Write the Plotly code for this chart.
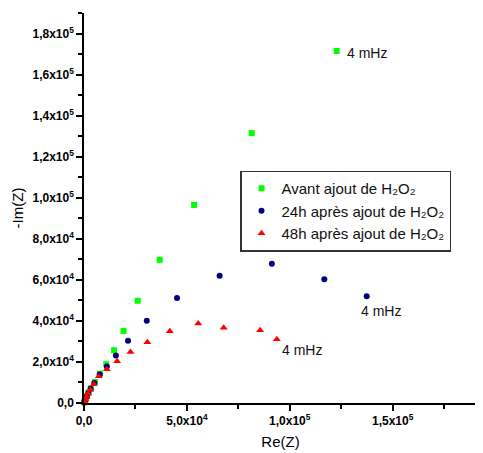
import plotly.graph_objects as go

# Nyquist data (Re(Z), -Im(Z))
avant_re = [100, 300, 700, 1300, 2200, 3300, 5300, 7800, 10800, 14600, 19200, 26100, 36800, 53500, 81500, 122800]
avant_im = [300, 900, 1900, 3300, 5100, 7200, 10200, 14300, 18900, 25700, 35100, 49800, 69800, 96500, 131500, 171500]

h24_re = [100, 300, 700, 1300, 2100, 3200, 5000, 7600, 11100, 15500, 21400, 30500, 45200, 65900, 91300, 116800, 137400]
h24_im = [300, 900, 1900, 3200, 4900, 7000, 9800, 13900, 17800, 23200, 30300, 40100, 51100, 62000, 67800, 60300, 52000]

h48_re = [100, 300, 700, 1200, 2000, 3100, 4800, 7200, 11100, 16100, 22600, 30800, 41700, 55500, 67900, 85600, 93700]
h48_im = [300, 800, 1800, 3000, 4600, 6500, 9200, 13000, 16400, 20300, 24900, 29600, 35000, 38700, 36700, 35500, 31100]

series_names = ["Avant ajout de H₂O₂",
                "24h après ajout de H₂O₂",
                "48h après ajout de H₂O₂"]

x_tickvals = [0, 50000, 100000, 150000]
x_ticktext = ["0,0", "5,0x10<sup>4</sup>", "1,0x10<sup>5</sup>", "1,5x10<sup>5</sup>"]
y_tickvals = [0, 20000, 40000, 60000, 80000, 100000, 120000, 140000, 160000, 180000]
y_ticktext = ["0,0", "2,0x10<sup>4</sup>", "4,0x10<sup>4</sup>", "6,0x10<sup>4</sup>", "8,0x10<sup>4</sup>",
              "1,0x10<sup>5</sup>", "1,2x10<sup>5</sup>", "1,4x10<sup>5</sup>", "1,6x10<sup>5</sup>", "1,8x10<sup>5</sup>"]

label_text = "4 mHz"
label_pos = [(127000, 170400), (133800, 44900), (95300, 26000)]

FONT = "Liberation Sans"

fig = go.Figure()
fig.add_trace(go.Scatter(x=avant_re, y=avant_im, mode="markers", name=series_names[0],
                         marker=dict(symbol="square", size=6, color="#00FF00"), cliponaxis=False))
fig.add_trace(go.Scatter(x=h24_re, y=h24_im, mode="markers", name=series_names[1],
                         marker=dict(symbol="circle", size=6, color="#000080"), cliponaxis=False))
fig.add_trace(go.Scatter(x=h48_re, y=h48_im, mode="markers", name=series_names[2],
                         marker=dict(symbol="triangle-up", size=7, color="#FF0000"), cliponaxis=False))

for (lx, ly) in label_pos:
    fig.add_annotation(x=lx, y=ly, text=label_text, showarrow=False, xanchor="left", yanchor="middle",
                       font=dict(family=FONT, size=14, color="#111111"))

# page body has an 8px margin, so the figure is a bit smaller than the window
fig.update_layout(
    width=475, height=445,
    margin=dict(l=76, r=6, t=5, b=50, autoexpand=False),
    paper_bgcolor="white", plot_bgcolor="white",
    font=dict(family=FONT, color="black"),
    showlegend=True,
    legend=dict(x=0.397, y=0.596, xanchor="left", yanchor="top",
                bgcolor="white", bordercolor="#333333", borderwidth=1.5,
                font=dict(family=FONT, size=15, color="#111111"),
                tracegroupgap=0),
)

fig.update_xaxes(
    range=[0, 191000], showgrid=False, zeroline=False, automargin=False,
    showline=True, linecolor="black", linewidth=1.5,
    ticks="outside", ticklen=6, tickwidth=1.5, tickcolor="black",
    tickvals=x_tickvals, ticktext=["<b>" + t + "</b>" for t in x_ticktext],
    tickfont=dict(family=FONT, size=12),
    minor=dict(ticks="outside", ticklen=4, tickwidth=1.5, tickcolor="black", dtick=25000, tick0=0, showgrid=False),
    title=dict(text="Re(Z)", font=dict(family=FONT, size=15), standoff=9),
)
fig.update_yaxes(
    range=[0, 190000], showgrid=False, zeroline=False, automargin=False,
    showline=True, linecolor="black", linewidth=1.5,
    ticks="outside", ticklen=6, tickwidth=1.5, tickcolor="black",
    tickvals=y_tickvals, ticktext=["<b>" + t + "</b>" for t in y_ticktext],
    tickfont=dict(family=FONT, size=12),
    minor=dict(ticks="outside", ticklen=4, tickwidth=1.5, tickcolor="black", dtick=10000, tick0=0, showgrid=False),
    title=dict(text="-Im(Z)", font=dict(family=FONT, size=15), standoff=5),
)

fig.write_html("out.html")
